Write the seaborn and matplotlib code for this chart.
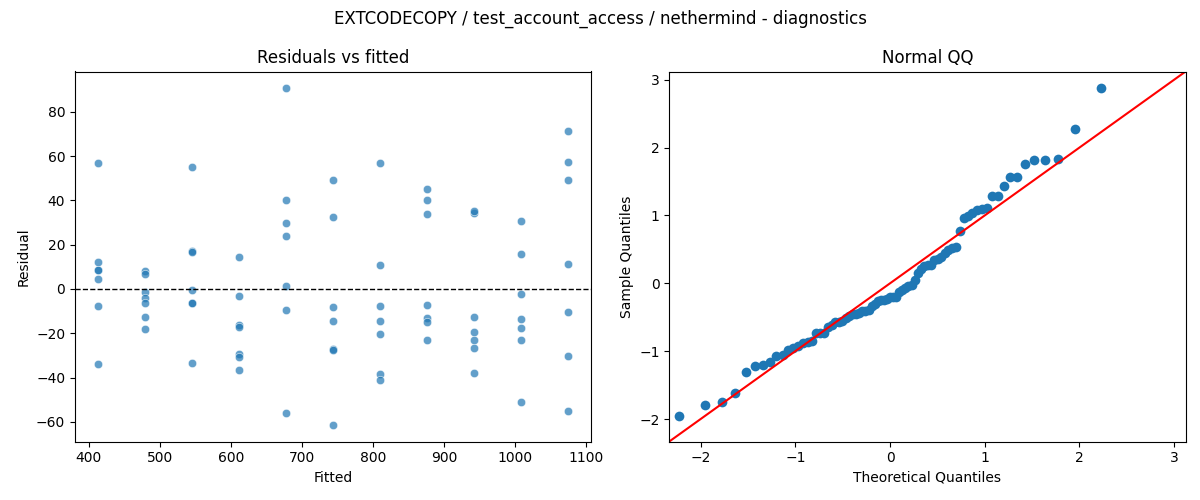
import numpy as np
import pandas as pd
import seaborn as sns
from matplotlib import pyplot as plt
from statistics import NormalDist

# fitted levels (11 groups, 7 runs each) and residuals
fitted_levels = [414, 480, 546, 612, 678, 744, 810, 876, 942, 1008, 1074]
resid_414 = [56.9, 12.0, 8.5, 8.4, 4.5, -7.8, -33.7]
resid_480 = [8.1, 6.6, -1.2, -3.9, -6.4, -12.6, -18.1]
resid_546 = [55.1, 17.0, 16.5, -0.6, -6.3, -6.5, -33.4]
resid_612 = [14.2, -3.3, -16.3, -17.4, -29.2, -30.7, -36.6]
resid_678 = [90.6, 40.3, 30.0, 24.1, 1.3, -9.6, -56.2]
resid_744 = [49.3, 32.4, -8.2, -14.4, -27.0, -27.5, -61.3]
resid_810 = [56.9, 10.8, -7.8, -14.4, -20.4, -38.2, -41.0]
resid_876 = [45.2, 40.3, 34.0, -7.3, -13.0, -15.0, -22.9]
resid_942 = [34.5, 35.0, -12.7, -19.5, -23.1, -26.7, -37.9]
resid_1008 = [30.9, 15.6, -2.4, -13.6, -17.8, -23.1, -50.9]
resid_1074 = [71.3, 57.4, 49.3, 11.1, -10.5, -30.2, -55.0]

groups = [resid_414, resid_480, resid_546, resid_612, resid_678, resid_744,
          resid_810, resid_876, resid_942, resid_1008, resid_1074]

fitted = []
resid = []
for lvl, g in zip(fitted_levels, groups):
    fitted += [lvl] * len(g)
    resid += g
df = pd.DataFrame({'fitted': fitted, 'resid': resid})

# normal QQ of standardised residuals
r = np.array(resid)
z = np.sort((r - r.mean()) / r.std())
n = len(z)
theo = [NormalDist().inv_cdf(i / (n + 1)) for i in range(1, n + 1)]
qq = pd.DataFrame({'theoretical': theo, 'sample': z})

fig, (ax1, ax2) = plt.subplots(1, 2, figsize=(12, 5), dpi=100)
fig.subplots_adjust(left=0.0625, right=0.988, top=0.857, bottom=0.117, wspace=0.151)

sns.scatterplot(data=df, x='fitted', y='resid', ax=ax1, alpha=0.7)
ax1.axhline(0, color='black', linestyle='--', linewidth=1)
ax1.set_title('Residuals vs fitted')
ax1.set_xlabel('Fitted')
ax1.set_ylabel('Residual')

sns.scatterplot(data=qq, x='theoretical', y='sample', ax=ax2, s=49,
                color='#1f77b4', edgecolor='#1f77b4', linewidth=0)
lims = (-2.33, 3.12)
ax2.plot(lims, lims, color='red')
ax2.set_xlim(lims)
ax2.set_ylim(lims)
ax2.set_title('Normal QQ')
ax2.set_xlabel('Theoretical Quantiles')
ax2.set_ylabel('Sample Quantiles')

fig.suptitle('EXTCODECOPY / test_account_access / nethermind - diagnostics')
fig.savefig('out.png')
